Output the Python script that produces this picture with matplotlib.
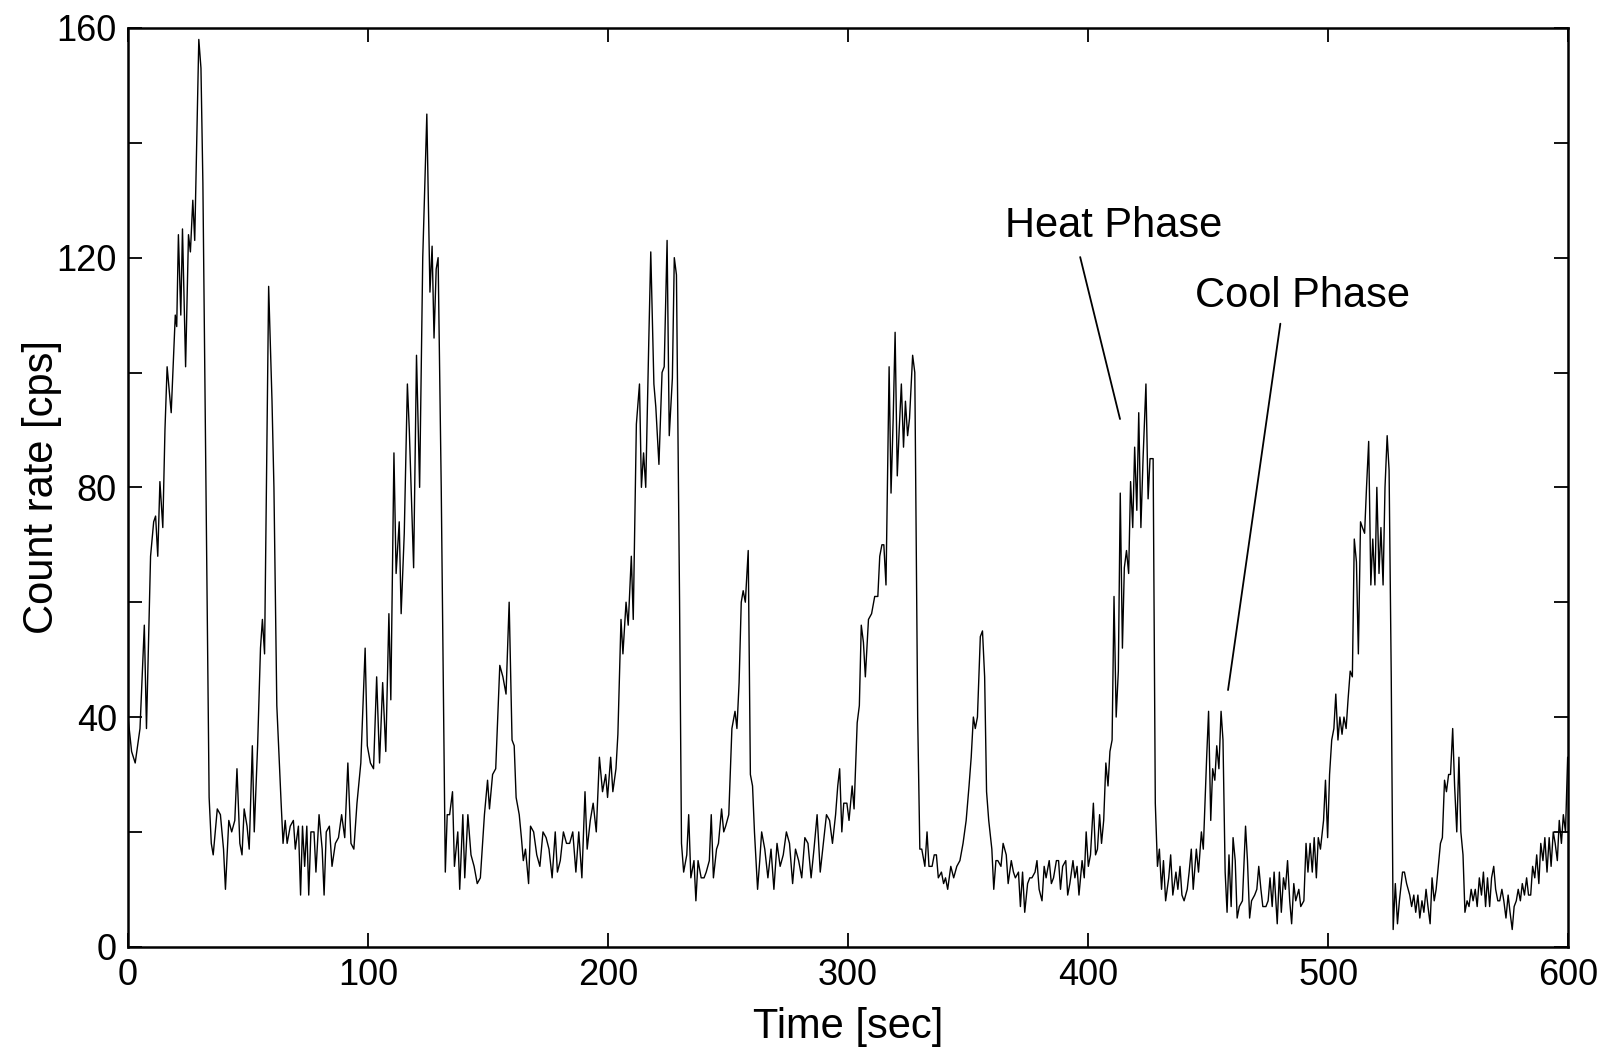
import matplotlib
matplotlib.use('Agg')
import matplotlib.pyplot as plt
from matplotlib.ticker import MultipleLocator

plt.rcParams['font.family'] = ['Liberation Sans', 'DejaVu Sans']

# time [sec] and count rate [cps]
time_sec = [
    0, 1.5, 3, 5, 6.8, 7.7, 9.4, 10.7, 11.5, 12.4, 13.3, 14.5, 15.4, 16.3, 18, 19.7, 20.3, 21, 22, 22.7,
    24, 25.2, 26, 27, 27.8, 29.5, 30.4, 31.2, 33.8, 34.7, 35.5, 37.2, 38.5, 39.8, 40.6, 42, 43.2, 44.5, 45.4, 46.6,
    47.5, 48.4, 49.6, 50.5, 51.8, 52.6, 54, 55.2, 56, 56.9, 58.6, 60, 60.8, 62, 63.8, 64.6, 65.5, 66.3, 67.6, 68.9,
    69.7, 71, 71.9, 72.7, 73.6, 74.5, 75.3, 76.2, 77.5, 78.3, 79.6, 80.9, 81.7, 82.6, 83.9, 85, 86.4, 87.7, 89, 90.3,
    91.6, 92.9, 94.1, 95.4, 97, 98.8, 99.7, 101, 102.3, 103.6, 104.8, 106.1, 107.4, 108.7, 109.5, 110.8, 111.7, 113, 113.8, 115.1,
    116.4, 117.2, 119, 120.2, 121.5, 122.8, 124.5, 125.8, 126.7, 127.5, 128.4, 129.2, 130.5, 132.2, 133, 134, 135.2, 136, 137.4, 138.2,
    139.5, 140.3, 141.6, 142.9, 144.2, 145.5, 146.8, 148.5, 149.8, 150.6, 151.9, 153.2, 154.9, 156.2, 157.5, 158.8, 160, 160.9, 161.7, 163,
    163.9, 164.7, 165.6, 166.9, 167.7, 169, 170.3, 171.6, 172.9, 174.2, 175.4, 176.7, 178, 178.9, 180.1, 181.4, 182.7, 184, 185.3, 186.6,
    187.8, 189.1, 190.4, 191.3, 192.6, 193.8, 195.1, 196.4, 197.7, 199, 199.8, 201.1, 202, 203.3, 204.1, 205.4, 206.2, 207.5, 208.4, 209.7,
    210.5, 211.8, 213.1, 213.9, 214.8, 215.7, 217, 217.8, 219.1, 219.9, 221.2, 222.5, 223.4, 224.6, 225.5, 226.8, 227.6, 228.5, 229.8, 230.6,
    231.5, 232.8, 233.6, 234.5, 235.8, 236.6, 237.5, 238.8, 240, 240.9, 242.2, 243, 243.9, 245.2, 246, 247.3, 248.2, 249, 250.3, 251.6,
    252.9, 253.7, 254.6, 255.5, 256.3, 257.2, 258.4, 259.3, 260.2, 261, 262.3, 263.2, 264, 265.3, 266.6, 267.9, 269.1, 270.4, 271.7, 273,
    274.3, 275.6, 276.9, 278.1, 279.4, 280.7, 282, 283.3, 284.6, 285.8, 287.1, 288.4, 289.7, 291, 292.3, 293.5, 294.8, 295.7, 296.5, 297.4,
    298.2, 299.5, 300.4, 301.7, 302.5, 303.8, 304.7, 305.5, 306.4, 307.2, 308.5, 309.8, 311.1, 312.4, 313.2, 314.1, 314.9, 315.8, 317.1, 317.9,
    318.8, 319.6, 320.5, 321.3, 322.2, 323.1, 323.9, 324.8, 325.6, 326.9, 327.8, 329, 329.9, 330.7, 332, 332.9, 333.7, 335, 335.9, 336.8,
    337.6, 338.9, 339.8, 340.6, 341.5, 342.8, 344, 345.3, 346.6, 347.9, 349.2, 350.4, 351.3, 352.2, 353, 353.9, 355.1, 356, 356.9, 357.7,
    358.6, 359.9, 360.7, 361.6, 362.4, 363.7, 364.6, 365.9, 366.7, 368, 368.9, 369.7, 371, 371.8, 372.7, 373.6, 374.8, 375.7, 376.6, 377.9,
    378.7, 379.6, 380.8, 381.7, 382.5, 383.8, 384.7, 385.6, 386.8, 387.7, 388.5, 389.4, 390.7, 391.5, 392.4, 393.7, 394.5, 395.4, 396.2, 397.5,
    398.4, 399.2, 400.1, 401, 402.2, 403.1, 403.9, 404.8, 405.6, 406.5, 407.4, 408.3, 409.1, 410, 410.8, 411.7, 412.6, 413.4, 414.3, 415.1,
    416, 416.9, 417.7, 418.6, 419.4, 420.3, 421.1, 422, 422.9, 424.1, 425, 425.8, 427.1, 428, 428.9, 429.7, 430.6, 431.4, 432.3, 433.6,
    434.4, 435.3, 436.6, 437.4, 438.3, 439.1, 440, 441.3, 442.1, 443, 443.8, 445.1, 446, 447.2, 448, 449.4, 450.2, 451.1, 451.9, 452.8,
    453.6, 454.5, 455.4, 456.2, 457.1, 457.9, 458.7, 459.6, 460.4, 461.3, 462.1, 463, 464.3, 465.6, 466.4, 467.3, 468.1, 469.4, 470.3, 471.1,
    472, 472.8, 474.1, 475, 475.8, 476.7, 477.5, 478.8, 479.7, 480.5, 481.4, 482.2, 483.1, 484, 484.8, 485.7, 486.5, 487.8, 488.6, 489.9,
    490.8, 491.6, 492.5, 493.4, 494.2, 495.1, 495.9, 496.8, 498.1, 498.9, 499.8, 500.6, 501.5, 502.4, 503.2, 504.1, 504.9, 505.8, 506.6, 507.5,
    508.3, 509.2, 510.1, 510.9, 511.8, 512.6, 513.5, 514.3, 515.2, 516, 516.9, 517.8, 518.6, 519.5, 520.3, 521.2, 522, 522.9, 523.7, 524.6,
    525.4, 526.3, 527.1, 528, 528.9, 529.7, 531, 531.8, 532.7, 534, 534.8, 535.7, 536.5, 537.4, 538.2, 539.1, 539.9, 540.8, 541.6, 542.5,
    543.3, 544.2, 545, 545.9, 546.8, 547.6, 548.5, 549.3, 550.2, 551, 551.9, 552.7, 553.6, 554.5, 555.3, 556.2, 557, 557.9, 558.7, 559.6,
    560.4, 561.3, 562.1, 563, 563.9, 564.7, 565.6, 566.4, 567.3, 568.1, 569, 569.8, 570.7, 571.5, 572.4, 573.2, 574.1, 575, 575.8, 576.7,
    577.5, 578.4, 579.2, 580.1, 580.9, 581.8, 582.7, 583.5, 584.4, 585.2, 586.1, 586.9, 587.8, 588.6, 589.5, 590.3, 591.2, 592.1, 592.9, 593.8,
    594.6, 595.5, 596.3, 597.2, 598, 598.9, 599.8, 600,
]
count_rate = [
    40, 34, 32, 38, 56, 38, 68, 74, 75, 68, 81, 73, 90, 101, 93, 110, 108, 124, 110, 125,
    101, 124, 121, 130, 123, 158, 153, 133, 26, 18, 16, 24, 23, 17, 10, 22, 20, 22, 31, 18,
    16, 24, 21, 17, 35, 20, 35, 52, 57, 51, 115, 95, 80, 42, 25, 18, 22, 18, 21, 22,
    17, 21, 9, 21, 14, 21, 9, 20, 20, 13, 23, 17, 9, 20, 21, 14, 18, 19, 23, 19,
    32, 18, 17, 25, 32, 52, 35, 32, 31, 47, 32, 46, 34, 58, 43, 86, 65, 74, 58, 72,
    98, 90, 66, 103, 80, 120, 145, 114, 122, 106, 118, 120, 80, 13, 23, 23, 27, 14, 20, 10,
    23, 12, 23, 16, 14, 11, 12, 23, 29, 24, 30, 31, 49, 47, 44, 60, 36, 35, 26, 23,
    19, 15, 17, 11, 21, 20, 16, 14, 20, 19, 17, 12, 20, 13, 15, 20, 18, 18, 20, 13,
    20, 12, 27, 17, 22, 25, 20, 33, 27, 30, 26, 33, 27, 31, 37, 57, 51, 60, 56, 68,
    57, 91, 98, 80, 86, 80, 106, 121, 98, 94, 84, 100, 101, 123, 89, 99, 120, 117, 60, 18,
    13, 16, 23, 12, 15, 8, 15, 12, 12, 13, 15, 23, 12, 17, 18, 24, 20, 21, 23, 38,
    41, 38, 46, 60, 62, 60, 69, 30, 28, 20, 10, 15, 20, 17, 12, 17, 10, 18, 14, 16,
    20, 18, 11, 17, 15, 12, 19, 18, 12, 17, 23, 13, 18, 23, 22, 18, 23, 28, 31, 20,
    25, 25, 22, 28, 24, 39, 42, 56, 53, 47, 57, 58, 61, 61, 68, 70, 70, 63, 101, 79,
    92, 107, 82, 90, 98, 87, 95, 89, 92, 103, 100, 40, 17, 17, 14, 20, 14, 14, 16, 16,
    12, 13, 11, 12, 10, 14, 12, 14, 15, 18, 22, 28, 33, 40, 38, 40, 54, 55, 47, 27,
    22, 17, 10, 15, 15, 14, 18, 16, 11, 15, 13, 12, 13, 7, 13, 6, 11, 12, 12, 13,
    15, 10, 8, 14, 12, 15, 11, 12, 15, 15, 10, 14, 15, 9, 11, 15, 12, 14, 9, 15,
    12, 20, 14, 16, 25, 16, 17, 23, 18, 22, 32, 28, 34, 36, 61, 40, 48, 79, 52, 66,
    69, 65, 81, 73, 87, 76, 93, 73, 85, 98, 78, 85, 85, 25, 14, 17, 10, 15, 8, 12,
    16, 9, 13, 10, 14, 9, 8, 10, 13, 17, 10, 17, 13, 20, 17, 33, 41, 22, 31, 29,
    35, 31, 41, 36, 13, 6, 16, 7, 19, 15, 5, 7, 8, 21, 15, 5, 8, 9, 10, 14,
    10, 7, 7, 8, 12, 7, 13, 4, 13, 6, 12, 10, 15, 8, 4, 11, 8, 10, 7, 8,
    18, 13, 18, 13, 19, 12, 19, 17, 22, 29, 19, 30, 36, 38, 44, 36, 40, 37, 40, 38,
    43, 48, 47, 71, 67, 51, 74, 73, 72, 80, 88, 63, 71, 63, 80, 65, 73, 63, 80, 89,
    83, 47, 3, 11, 4, 8, 13, 13, 11, 9, 7, 9, 6, 9, 5, 8, 6, 10, 7, 4,
    12, 8, 10, 14, 18, 19, 29, 27, 30, 30, 38, 28, 20, 33, 20, 16, 6, 8, 7, 10,
    8, 10, 7, 12, 9, 13, 7, 12, 7, 12, 14, 10, 8, 8, 10, 8, 5, 9, 6, 3,
    7, 8, 10, 8, 11, 9, 12, 9, 9, 14, 12, 16, 11, 18, 15, 19, 13, 19, 14, 20,
    18, 15, 22, 18, 23, 20, 33, 33,
]

# phase labels: text centre, then leader line start -> end (data units)
phase_labels = ['Heat Phase', 'Cool Phase']
label_pos = [(410.8, 125.5), (489.5, 113.3)]
leader_from = [(396.7, 120.1), (480.1, 108.5)]
leader_to = [(413.3, 91.9), (458.3, 44.7)]

fig = plt.figure(figsize=(16.1, 10.59), dpi=100)
ax = fig.add_axes([0.0795, 0.106, 0.8945, 0.8676])

ax.plot(time_sec, count_rate, color='black', linewidth=1.0)

ax.set_xlim(0, 600)
ax.set_ylim(0, 160)
ax.xaxis.set_major_locator(MultipleLocator(100))
ax.yaxis.set_major_locator(MultipleLocator(40))
ax.yaxis.set_minor_locator(MultipleLocator(20))
ax.tick_params(which='both', direction='in', top=True, right=True,
               length=10, width=1.3, labelsize=26, pad=8)
for s in ax.spines.values():
    s.set_linewidth(1.8)

ax.set_xlabel('Time [sec]', fontsize=30, labelpad=10)
ax.set_ylabel('Count rate [cps]', fontsize=30, labelpad=-4)

for txt, pos, p0, p1 in zip(phase_labels, label_pos, leader_from, leader_to):
    ax.text(pos[0], pos[1], txt, fontsize=30, ha='center', va='center')
    ax.annotate('', xy=p1, xytext=p0,
                arrowprops=dict(arrowstyle='-', color='black', lw=1.3,
                                shrinkA=0, shrinkB=0))

fig.savefig('out.png', dpi=100)
